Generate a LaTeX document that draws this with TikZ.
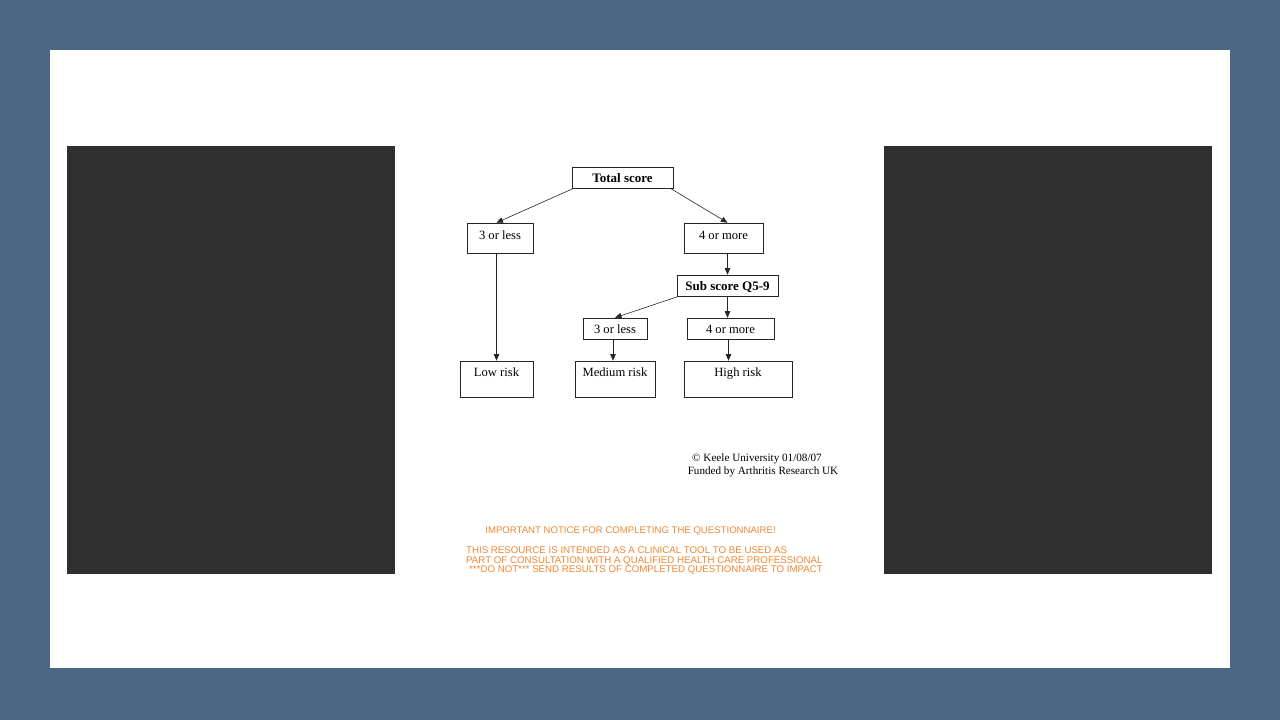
\documentclass[tikz,border=0pt]{standalone}
\usepackage{fontspec}
\setmainfont{Liberation Serif}
\newfontfamily\noticefont{Liberation Sans}
\usetikzlibrary{arrows.meta}

\definecolor{slate}{RGB}{74,103,132}
\definecolor{panel}{RGB}{47,47,47}
\definecolor{notice}{RGB}{238,136,50}

\tikzset{
  box/.style={draw=black!85, line width=0.6pt, inner xsep=0pt, inner ysep=0pt,
    font=\fontsize{12.6}{14}\selectfont},
  head/.style={box, font=\fontsize{13}{14}\selectfont\bfseries},
  arr/.style={draw=black!85, line width=0.6pt, -{Triangle[length=6.5pt,width=5.5pt]}}
}

\begin{document}
\begin{tikzpicture}[x=1pt,y=-1pt]
  \useasboundingbox (0,0) rectangle (1280,720);
  \fill[slate] (0,0) rectangle (1280,720);
  \fill[white] (50,50) rectangle (1230,668);
  \foreach \x in {67,884}{
    \fill[panel] (\x,146) rectangle (\x+328,574);
  }

  %%%%%%%%%%%%%%%%%%%%%%%%%%%%%%%%%%%%

  \node[head, minimum width=101pt, text height=15pt, text depth=6pt] (total) at (622.5,177.5) {Total score};

  \node[box, minimum width=66pt, text height=16pt, text depth=14pt] (lessA) at (500,238) {3 or less};
  \node[box, minimum width=79pt, text height=16pt, text depth=14pt] (moreA) at (723.5,238) {4 or more};

  \node[head, minimum width=101pt, text height=15pt, text depth=6pt] (sub) at (727.5,285.5) {Sub score Q5-9};

  \node[box, minimum width=64pt, text height=15pt, text depth=6pt] (lessB) at (615,328.5) {3 or less};
  \node[box, minimum width=87pt, text height=15pt, text depth=6pt] (moreB) at (730.5,328.5) {4 or more};

  \node[box, minimum width=73pt, text height=15pt, text depth=21pt] (low) at (496.5,379) {Low risk};
  \node[box, minimum width=80pt, text height=15pt, text depth=21pt] (medium) at (615,379) {Medium risk};
  \node[box, minimum width=108pt, text height=15pt, text depth=21pt] (high) at (738,379) {High risk};

  %%%%%%%%%%%%%%%%%%%%%%%%%%%%%%%%%%%%

  \draw[arr] ([xshift=2pt]total.south west) -- (lessA.north -| low.north);
  \draw[arr] ([xshift=-3pt]total.south east) -- (moreA.north -| sub.north);
  \draw[arr] (moreA.south -| sub.north) -- (sub.north);
  \draw[arr] (lessA.south -| low.north) -- (low.north);
  \draw[arr] ([xshift=2pt]sub.south west) -- (lessB.north);
  \draw[arr] (sub.south) -- (sub.south |- moreB.north);
  \draw[arr] ([xshift=-2pt]lessB.south) -- ([xshift=-2pt]lessB.south |- medium.north);
  \draw[arr] ([xshift=-2pt]moreB.south) -- ([xshift=-2pt]moreB.south |- high.north);

  %%%%%%%%%%%%%%%%%%%%%%%%%%%%%%%%%%%%

  \node[font=\fontsize{11.15}{13}\selectfont, align=center] (keele) at (763,465) {\hspace*{-12pt}\textcopyright{} Keele University 01/08/07\\Funded by Arthritis Research UK};

  \node[text=notice, font=\noticefont\fontsize{9.6}{9.6}\selectfont] (important) at (630.5,531) {IMPORTANT NOTICE FOR COMPLETING THE QUESTIONNAIRE!};
  \node[text=notice, font=\noticefont\fontsize{9.7}{9.6}\selectfont, align=left, anchor=north west, inner sep=0pt] (resource) at (466,546.5) {THIS RESOURCE IS INTENDED AS A CLINICAL TOOL TO BE USED AS\\PART OF CONSULTATION WITH A QUALIFIED HEALTH CARE PROFESSIONAL\\\hspace*{3pt}***DO NOT*** SEND RESULTS OF COMPLETED QUESTIONNAIRE TO IMPACT};
\end{tikzpicture}
\end{document}
